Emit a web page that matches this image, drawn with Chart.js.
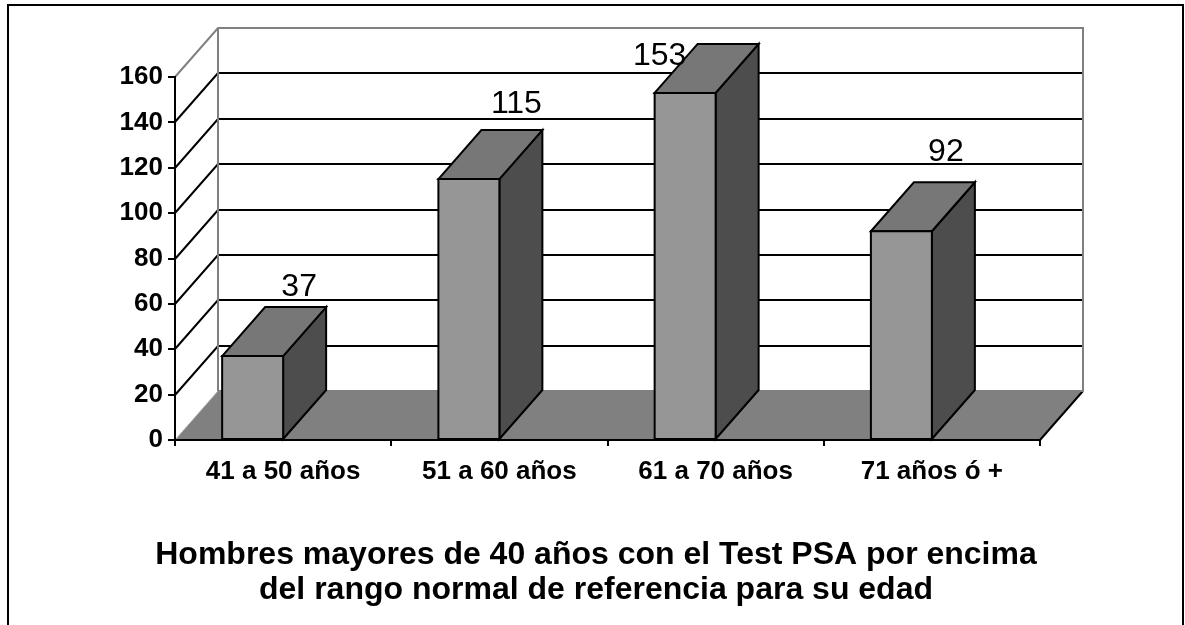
<!DOCTYPE html>
<html>
<head>
<meta charset="utf-8">
<script src="https://cdn.jsdelivr.net/npm/chart.js@4.4.1/dist/chart.umd.min.js"></script>
<style>
  html, body { margin: 0; padding: 0; background: #ffffff; }
  canvas { display: block; }
</style>
</head>
<body>
<canvas id="c" width="1185" height="625"></canvas>
<script>
// ---- data ----
const categories = ['41 a 50 años', '51 a 60 años', '61 a 70 años', '71 años ó +'];
const values = [37, 115, 153, 92];
const yTicks = { min: 0, max: 160, step: 20 };
const titleLines = [
  'Hombres mayores de 40 años con el Test PSA por encima',
  'del rango normal de referencia para su edad'
];

// ---- style ----
const FONT = "'Liberation Sans', Arial, Helvetica, sans-serif";
Chart.defaults.font.family = FONT;
const DEPTH = { dx: 43, dy: -49 };
const COLORS = {
  front: '#969696', top: '#777777', side: '#4d4d4d',
  floor: '#808080', wallEdge: '#808080', grid: '#000000'
};
// label placement relative to each bar's front-top-left corner
const LABEL_OFFSETS = [[77, -60], [78, -66], [5, -28], [75, -70]];

const box3d = {
  id: 'box3d',
  beforeDraw(chart) {
    const ctx = chart.ctx;
    const { left, right, top, bottom } = chart.chartArea;
    const ys = chart.scales.y;
    const { dx, dy } = DEPTH;
    ctx.save();
    // outer border
    ctx.strokeStyle = '#000';
    ctx.lineWidth = 2;
    ctx.strokeRect(8, 5, 1175, 700);

    // floor
    ctx.fillStyle = COLORS.floor;
    ctx.beginPath();
    ctx.moveTo(left, bottom);
    ctx.lineTo(right, bottom);
    ctx.lineTo(right + dx, bottom + dy);
    ctx.lineTo(left + dx, bottom + dy);
    ctx.closePath();
    ctx.fill();
    // floor left edge (light)
    ctx.strokeStyle = '#b0b0b0';
    ctx.lineWidth = 1;
    ctx.beginPath();
    ctx.moveTo(left, bottom);
    ctx.lineTo(left + dx, bottom + dy);
    ctx.stroke();
    // floor right edge
    ctx.strokeStyle = '#000';
    ctx.lineWidth = 2;
    ctx.beginPath();
    ctx.moveTo(right, bottom);
    ctx.lineTo(right + dx, bottom + dy);
    ctx.stroke();

    // gridlines on side and back walls
    ctx.strokeStyle = COLORS.grid;
    ctx.lineWidth = 2;
    ys.ticks.forEach(t => {
      if (t.value <= yTicks.min || t.value >= yTicks.max) return;
      const py = Math.round(ys.getPixelForValue(t.value));
      ctx.beginPath();
      ctx.moveTo(left, py);
      ctx.lineTo(left + dx, py + dy);
      ctx.lineTo(right + dx, py + dy);
      ctx.stroke();
    });
    // wall outline (gray)
    const pt = Math.round(ys.getPixelForValue(yTicks.max));
    ctx.strokeStyle = COLORS.wallEdge;
    ctx.lineWidth = 2;
    ctx.beginPath();
    ctx.moveTo(left, pt);
    ctx.lineTo(left + dx, pt + dy);
    ctx.lineTo(right + dx, pt + dy);
    ctx.lineTo(right + dx, bottom + dy);
    ctx.stroke();
    ctx.beginPath();
    ctx.moveTo(left + dx, pt + dy);
    ctx.lineTo(left + dx, bottom + dy);
    ctx.stroke();
    ctx.beginPath();
    ctx.moveTo(left + dx, bottom + dy);
    ctx.lineTo(right + dx, bottom + dy);
    ctx.stroke();
    ctx.restore();
  },
  afterDatasetsDraw(chart) {
    const ctx = chart.ctx;
    const meta = chart.getDatasetMeta(0);
    const { dx, dy } = DEPTH;
    ctx.save();
    ctx.lineWidth = 2;
    ctx.strokeStyle = '#000';
    ctx.lineJoin = 'miter';
    meta.data.forEach((el, i) => {
      const x0 = el.x - el.width, x1 = el.x, yt = el.y, yb = el.base;
      // side
      ctx.fillStyle = COLORS.side;
      ctx.beginPath();
      ctx.moveTo(x1, yt); ctx.lineTo(x1 + dx, yt + dy);
      ctx.lineTo(x1 + dx, yb + dy); ctx.lineTo(x1, yb);
      ctx.closePath(); ctx.fill(); ctx.stroke();
      // top
      ctx.fillStyle = COLORS.top;
      ctx.beginPath();
      ctx.moveTo(x0, yt); ctx.lineTo(x0 + dx, yt + dy);
      ctx.lineTo(x1 + dx, yt + dy); ctx.lineTo(x1, yt);
      ctx.closePath(); ctx.fill(); ctx.stroke();
      // front
      ctx.fillStyle = COLORS.front;
      ctx.beginPath();
      ctx.rect(x0, yt, x1 - x0, yb - yt);
      ctx.fill(); ctx.stroke();
    });
    // value labels
    ctx.fillStyle = '#000';
    ctx.font = '32px ' + FONT;
    ctx.textAlign = 'center';
    ctx.textBaseline = 'alphabetic';
    meta.data.forEach((el, i) => {
      const x0 = el.x - el.width;
      const off = LABEL_OFFSETS[i];
      ctx.fillText(String(values[i]), x0 + off[0], el.y + off[1]);
    });
    ctx.restore();
  }
};

new Chart(document.getElementById('c'), {
  type: 'bar',
  data: {
    labels: categories,
    datasets: [{
      data: values,
      backgroundColor: 'rgba(0,0,0,0)',
      borderWidth: 0,
      categoryPercentage: 1,
      barPercentage: 0.282
    }]
  },
  options: {
    responsive: false,
    animation: false,
    devicePixelRatio: 1,
    layout: { padding: { left: 7, right: 0, top: 77, bottom: 0 } },
    plugins: {
      legend: { display: false },
      tooltip: { enabled: false },
      title: {
        display: true,
        position: 'bottom',
        text: titleLines,
        color: '#000',
        font: { size: 32, weight: 'bold', lineHeight: '35px', family: FONT },
        padding: { top: 10, bottom: 17 }
      }
    },
    scales: {
      x: {
        type: 'category',
        afterFit(s) { s.height = 88; },
        grid: { offset: true, drawOnChartArea: false, drawTicks: true, tickLength: 6, color: '#000', lineWidth: 2 },
        border: { display: true, color: '#000', width: 2 },
        ticks: { color: '#000', font: { size: 26, weight: 'bold' }, padding: 10, maxRotation: 0, autoSkip: false }
      },
      y: {
        min: yTicks.min, max: yTicks.max,
        afterFit(s) { s.width = 168; },
        grid: { drawOnChartArea: false, drawTicks: true, tickLength: 7, color: '#000', lineWidth: 2 },
        border: { display: true, color: '#000', width: 2 },
        ticks: { stepSize: yTicks.step, color: '#000', font: { size: 26, weight: 'bold' }, padding: 5 }
      },
      depthSpace: {
        type: 'linear',
        position: 'right',
        display: true,
        afterFit(s) { s.width = 145; },
        grid: { display: false, drawTicks: false },
        border: { display: false },
        ticks: { display: false }
      }
    }
  },
  plugins: [box3d]
});
</script>
</body>
</html>
